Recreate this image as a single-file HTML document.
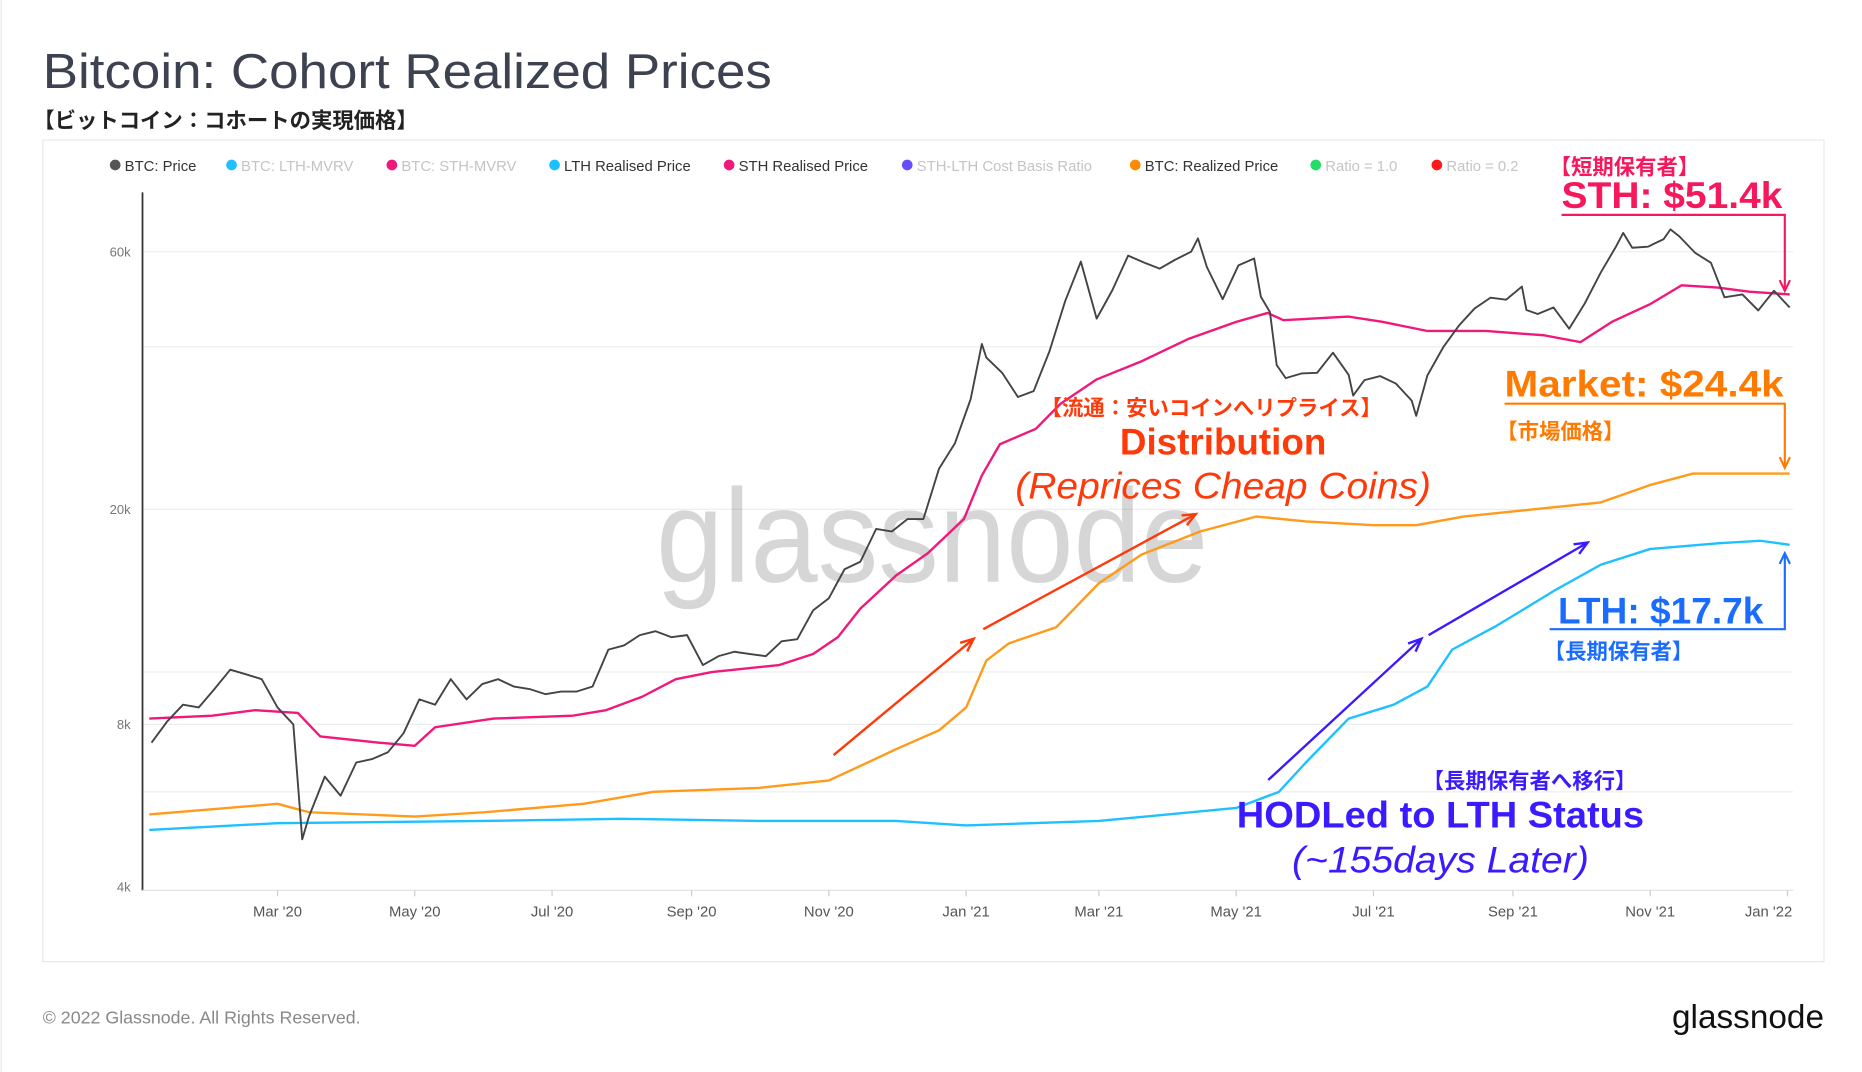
<!DOCTYPE html>
<html><head><meta charset="utf-8">
<style>
html,body{margin:0;padding:0;background:#fff;}
svg{display:block;}
text{font-family:"Liberation Sans","Noto Sans CJK JP",sans-serif;}
</style></head>
<body>
<svg id="chart" width="1862" height="1072" viewBox="0 0 1568 903" preserveAspectRatio="none" xmlns="http://www.w3.org/2000/svg">
<line x1="1" y1="0" x2="1" y2="903" stroke="#e8e8e8"/>
<text x="36" y="74" font-size="41" fill="#3d4250" textLength="614" lengthAdjust="spacingAndGlyphs">Bitcoin: Cohort Realized Prices</text>
<text x="28" y="108" font-size="18" font-weight="bold" fill="#222">【ビットコイン：コホートの実現価格】</text>
<rect x="36" y="118" width="1500" height="692" fill="none" stroke="#e8e8e8"/>
<g id="legend"></g>
<g id="grid"></g>
<text x="785" y="490" font-size="112" text-anchor="middle" fill="#000" fill-opacity="0.16" textLength="465" lengthAdjust="spacingAndGlyphs">glassnode</text>
<g id="series"></g>
<g id="annot"></g>
<text x="36" y="862" font-size="15" fill="#888">© 2022 Glassnode. All Rights Reserved.</text>
<text x="1408" y="866" font-size="28" fill="#111" textLength="128" lengthAdjust="spacingAndGlyphs">glassnode</text>
</svg>
<script>
const yTicks=[60000,20000,8000,4000];
const yTickLabels=["60k","20k","8k","4k"];
const yGrid=[60000,40000,20000,10000,8000,6000];
const xTickDates=["2020-03-01","2020-05-01","2020-07-01","2020-09-01","2020-11-01","2021-01-01","2021-03-01","2021-05-01","2021-07-01","2021-09-01","2021-11-01","2022-01-01"];
const xTickLabels=["Mar '20","May '20","Jul '20","Sep '20","Nov '20","Jan '21","Mar '21","May '21","Jul '21","Sep '21","Nov '21","Jan '22"];
const priceDates=["2020-01-05","2020-01-12","2020-01-19","2020-01-26","2020-02-02","2020-02-09","2020-02-16","2020-02-23","2020-03-01","2020-03-08","2020-03-12","2020-03-15","2020-03-22","2020-03-29","2020-04-05","2020-04-12","2020-04-19","2020-04-26","2020-05-03","2020-05-10","2020-05-17","2020-05-24","2020-05-31","2020-06-07","2020-06-14","2020-06-21","2020-06-28","2020-07-05","2020-07-12","2020-07-19","2020-07-26","2020-08-02","2020-08-09","2020-08-16","2020-08-23","2020-08-30","2020-09-06","2020-09-13","2020-09-20","2020-09-27","2020-10-04","2020-10-11","2020-10-18","2020-10-25","2020-11-01","2020-11-08","2020-11-15","2020-11-22","2020-11-29","2020-12-06","2020-12-13","2020-12-20","2020-12-27","2021-01-03","2021-01-08","2021-01-10","2021-01-17","2021-01-24","2021-01-31","2021-02-07","2021-02-14","2021-02-21","2021-02-28","2021-03-07","2021-03-14","2021-03-21","2021-03-28","2021-04-04","2021-04-11","2021-04-14","2021-04-18","2021-04-25","2021-05-02","2021-05-09","2021-05-12","2021-05-16","2021-05-19","2021-05-23","2021-05-30","2021-06-06","2021-06-13","2021-06-20","2021-06-22","2021-06-27","2021-07-04","2021-07-11","2021-07-18","2021-07-20","2021-07-25","2021-08-01","2021-08-08","2021-08-15","2021-08-22","2021-08-29","2021-09-05","2021-09-07","2021-09-12","2021-09-19","2021-09-26","2021-10-03","2021-10-10","2021-10-17","2021-10-20","2021-10-24","2021-10-31","2021-11-07","2021-11-10","2021-11-14","2021-11-21","2021-11-28","2021-12-04","2021-12-12","2021-12-19","2021-12-26","2022-01-02"];
const priceValues=[7.4,8.1,8.7,8.6,9.3,10.1,9.9,9.7,8.6,8.0,4.9,5.4,6.4,5.9,6.8,6.9,7.1,7.7,8.9,8.7,9.7,8.9,9.5,9.7,9.4,9.3,9.1,9.2,9.2,9.4,11.0,11.2,11.7,11.9,11.6,11.7,10.3,10.7,10.9,10.8,10.7,11.4,11.5,13.0,13.7,15.5,16.0,18.4,18.2,19.2,19.2,23.8,26.5,32.0,40.5,38.2,35.8,32.3,33.1,39.2,48.6,57.5,45.1,50.9,59.0,57.3,55.8,58.0,60.0,63.5,56.2,49.0,56.6,58.3,49.5,46.4,37.0,35.0,35.7,35.8,39.0,35.5,32.5,34.7,35.3,34.2,31.8,29.8,35.4,39.9,43.8,47.1,49.3,48.9,51.7,46.8,46.0,47.3,43.2,48.2,54.9,61.5,65.0,61.0,61.3,63.3,66.0,64.0,59.7,57.2,49.4,50.0,46.7,50.8,47.3];
const sthDates=["2020-01-04","2020-02-01","2020-02-20","2020-03-10","2020-03-20","2020-04-15","2020-05-01","2020-05-10","2020-06-05","2020-07-10","2020-07-25","2020-08-10","2020-08-25","2020-09-10","2020-10-10","2020-10-25","2020-11-05","2020-11-15","2020-12-01","2020-12-15","2020-12-31","2021-01-08","2021-01-16","2021-02-01","2021-02-12","2021-02-28","2021-03-20","2021-04-10","2021-05-01","2021-05-15","2021-05-22","2021-06-20","2021-07-05","2021-07-25","2021-08-20","2021-09-15","2021-10-01","2021-10-15","2021-11-01","2021-11-15","2021-12-01","2021-12-15","2022-01-02"];
const sthValues=[8.2,8.3,8.5,8.4,7.6,7.4,7.3,7.9,8.2,8.3,8.5,9.0,9.7,10.0,10.3,10.8,11.6,13.1,15.1,16.6,19.2,23.1,26.4,28.2,31.4,34.8,37.6,41.4,44.5,46.2,44.8,45.5,44.5,42.8,42.8,42.0,40.8,44.5,48.0,52.0,51.5,50.6,50.0];
const realizedDates=["2020-01-04","2020-03-01","2020-03-15","2020-05-01","2020-06-01","2020-07-15","2020-08-15","2020-10-01","2020-11-01","2020-11-15","2020-12-01","2020-12-20","2021-01-01","2021-01-10","2021-01-20","2021-02-10","2021-03-01","2021-03-20","2021-04-15","2021-05-10","2021-06-01","2021-07-01","2021-07-20","2021-08-10","2021-09-15","2021-10-10","2021-11-01","2021-11-20","2021-12-20","2022-01-02"];
const realizedValues=[5.45,5.7,5.5,5.4,5.5,5.7,6.0,6.1,6.3,6.7,7.2,7.8,8.6,10.5,11.3,12.1,14.6,16.5,18.2,19.4,19.0,18.7,18.7,19.4,20.1,20.6,22.2,23.3,23.3,23.3];
const lthDates=["2020-01-04","2020-03-01","2020-06-01","2020-08-01","2020-10-01","2020-12-01","2021-01-01","2021-03-01","2021-05-01","2021-05-20","2021-06-01","2021-06-20","2021-07-10","2021-07-25","2021-08-05","2021-08-25","2021-09-20","2021-10-10","2021-11-01","2021-12-01","2021-12-20","2022-01-02"];
const lthValues=[5.1,5.25,5.3,5.35,5.3,5.3,5.2,5.3,5.6,6.0,6.8,8.2,8.7,9.4,11.0,12.2,14.2,15.8,16.9,17.3,17.5,17.2];

const NS="http://www.w3.org/2000/svg";
const T0=Date.UTC(2020,0,1);
function xScale(d){const t=Date.parse(d+"T00:00:00Z");return 120+(t-T0)/86400000*1.895;}
function yScale(v){return 212+455*Math.log10(60000/v);}
function mk(tag,attrs,parent){const e=document.createElementNS(NS,tag);for(const k in attrs)e.setAttribute(k,attrs[k]);parent.appendChild(e);return e;}

const grid=document.getElementById('grid');
yGrid.forEach(v=>{
  const l=mk('line',{x1:120,x2:1510,y1:yScale(v),y2:yScale(v),stroke:'#eeeeee'},grid);
  
  
});
yTicks.forEach((v,i)=>{
  const t=mk('text',{x:110,y:yScale(v)+4,'font-size':11,'text-anchor':'end',fill:'#777'},grid);
  t.textContent=yTickLabels[i];
  
  
});
const yAxis=mk('line',{x1:120,x2:120,y1:162,y2:750,stroke:'#333','stroke-width':1.5},grid);


const xAxis=mk('line',{x1:120,x2:1510,y1:750,y2:750,stroke:'#e4e4e4'},grid);


xTickDates.forEach((d,i)=>{
  let x=xScale(d);
  const tk=mk('line',{x1:x,x2:x,y1:750,y2:755,stroke:'#ccc'},grid);
  
  
  const last=i===xTickDates.length-1;
  const t=mk('text',{x:last?x+4:x,y:772,'font-size':12.5,'text-anchor':last?'end':'middle',fill:'#555'},grid);
  t.textContent=xTickLabels[i];
  
  
});

const series=document.getElementById('series');
function drawLine(dates,vals,color,w,name){
  const p=dates.map((d,i)=>(i?'L':'M')+xScale(d).toFixed(1)+','+yScale(vals[i]*1000).toFixed(1)).join('');
  const e=mk('path',{d:p,fill:'none',stroke:color,'stroke-width':w,'stroke-linejoin':'round'},series);
  
  
}
drawLine(lthDates,lthValues,'#1ec0ff',2,'lth-realised-price-line');
drawLine(realizedDates,realizedValues,'#ff9a1a',2,'btc-realized-price-line');
drawLine(sthDates,sthValues,'#f0187a',2,'sth-realised-price-line');
drawLine(priceDates,priceValues,'#444444',1.6,'btc-price-line');

const legendItems=[["BTC: Price","#555",1],["BTC: LTH-MVRV","#1ec0ff",0],["BTC: STH-MVRV","#f0187a",0],["LTH Realised Price","#1ec0ff",1],["STH Realised Price","#f0187a",1],["STH-LTH Cost Basis Ratio","#6a4cff",0],["BTC: Realized Price","#ff8c00",1],["Ratio = 1.0","#22dd66",0],["Ratio = 0.2","#ff1a1a",0]];
const legendX=[97,195,330,467,614,764,956,1108,1210];
const lg=document.getElementById('legend');
legendItems.forEach((it,i)=>{
  const c=mk('circle',{cx:legendX[i],cy:139,r:4.5,fill:it[1]},lg);
  
  
  const t=mk('text',{x:legendX[i]+8,y:144,'font-size':12.5,fill:it[2]?'#333':'#c4c4c4'},lg);
  t.textContent=it[0];
  
  
});

const an=document.getElementById('annot');
function txt(s,x,y,size,color,opts,name){
  const t=mk('text',Object.assign({x:x,y:y,'font-size':size,fill:color},opts||{}),an);
  t.textContent=s;
  
  
}
function arrow(x1,y1,x2,y2,color,name){
  const g=mk('g',{},an);
  
  
  mk('line',{x1:x1,y1:y1,x2:x2,y2:y2,stroke:color,'stroke-width':2},g);
  const a=Math.atan2(y2-y1,x2-x1),L=12;
  const p=[[x2,y2],[x2-L*Math.cos(a-0.4),y2-L*Math.sin(a-0.4)],[x2,y2],[x2-L*Math.cos(a+0.4),y2-L*Math.sin(a+0.4)]];
  mk('polyline',{points:p.map(q=>q.join(',')).join(' '),fill:'none',stroke:color,'stroke-width':2},g);
}
function elbow(pts,color,name){
  const g=mk('g',{},an);
  
  
  mk('polyline',{points:pts.map(q=>q.join(',')).join(' '),fill:'none',stroke:color,'stroke-width':1.8},g);
  const [x2,y2]=pts[pts.length-1],[x1,y1]=pts[pts.length-2];
  const a=Math.atan2(y2-y1,x2-x1),L=10;
  mk('polyline',{points:[[x2-L*Math.cos(a-0.45),y2-L*Math.sin(a-0.45)],[x2,y2],[x2-L*Math.cos(a+0.45),y2-L*Math.sin(a+0.45)]].map(q=>q.join(',')).join(' '),fill:'none',stroke:color,'stroke-width':1.8},g);
}
const PINK='#f5185c',ORG='#ff7a00',BLU='#1a6cff',RED='#ff3a0a',VIO='#3a1aff';
txt('【短期保有者】',1305,147,18,PINK,{'font-weight':'bold'},'sth-label-jp');
txt('STH: $51.4k',1315,175,31,PINK,{'font-weight':'bold',textLength:186,lengthAdjust:'spacingAndGlyphs'},'sth-value-label');
elbow([[1315,181],[1503,181],[1503,245]],PINK,'sth-callout-arrow');
txt('Market: $24.4k',1267,334,31,ORG,{'font-weight':'bold',textLength:235,lengthAdjust:'spacingAndGlyphs'},'market-value-label');
elbow([[1267,340],[1503,340],[1503,394]],ORG,'market-callout-arrow');
txt('【市場価格】',1260,370,18,ORG,{'font-weight':'bold'},'market-label-jp');
txt('LTH: $17.7k',1312,525,31,BLU,{'font-weight':'bold',textLength:173,lengthAdjust:'spacingAndGlyphs'},'lth-value-label');
elbow([[1305,530],[1503,530],[1503,466]],BLU,'lth-callout-arrow');
txt('【長期保有者】',1300,555,18,BLU,{'font-weight':'bold'},'lth-label-jp');
txt('【流通：安いコインへリプライス】',1020,350,18,RED,{'font-weight':'bold','text-anchor':'middle'},'distribution-label-jp');
txt('Distribution',1030,383,31,RED,{'font-weight':'bold','text-anchor':'middle'},'distribution-label');
txt('(Reprices Cheap Coins)',1030,420,31,RED,{'font-style':'italic','text-anchor':'middle',textLength:350,lengthAdjust:'spacingAndGlyphs'},'distribution-sublabel');
arrow(702,636,820,538,RED,'distribution-arrow-1');
arrow(828,530,1007,433,RED,'distribution-arrow-2');
txt('【長期保有者へ移行】',1288,664,18,VIO,{'font-weight':'bold','text-anchor':'middle'},'hodl-label-jp');
txt('HODLed to LTH Status',1213,697,31,VIO,{'font-weight':'bold','text-anchor':'middle',textLength:343,lengthAdjust:'spacingAndGlyphs'},'hodl-label');
txt('(~155days Later)',1213,735,31,VIO,{'font-style':'italic','text-anchor':'middle',textLength:250,lengthAdjust:'spacingAndGlyphs'},'hodl-sublabel');
arrow(1068,657,1197,538,VIO,'hodl-arrow-1');
arrow(1203,535,1337,457,VIO,'hodl-arrow-2');
</script>
</body></html>
